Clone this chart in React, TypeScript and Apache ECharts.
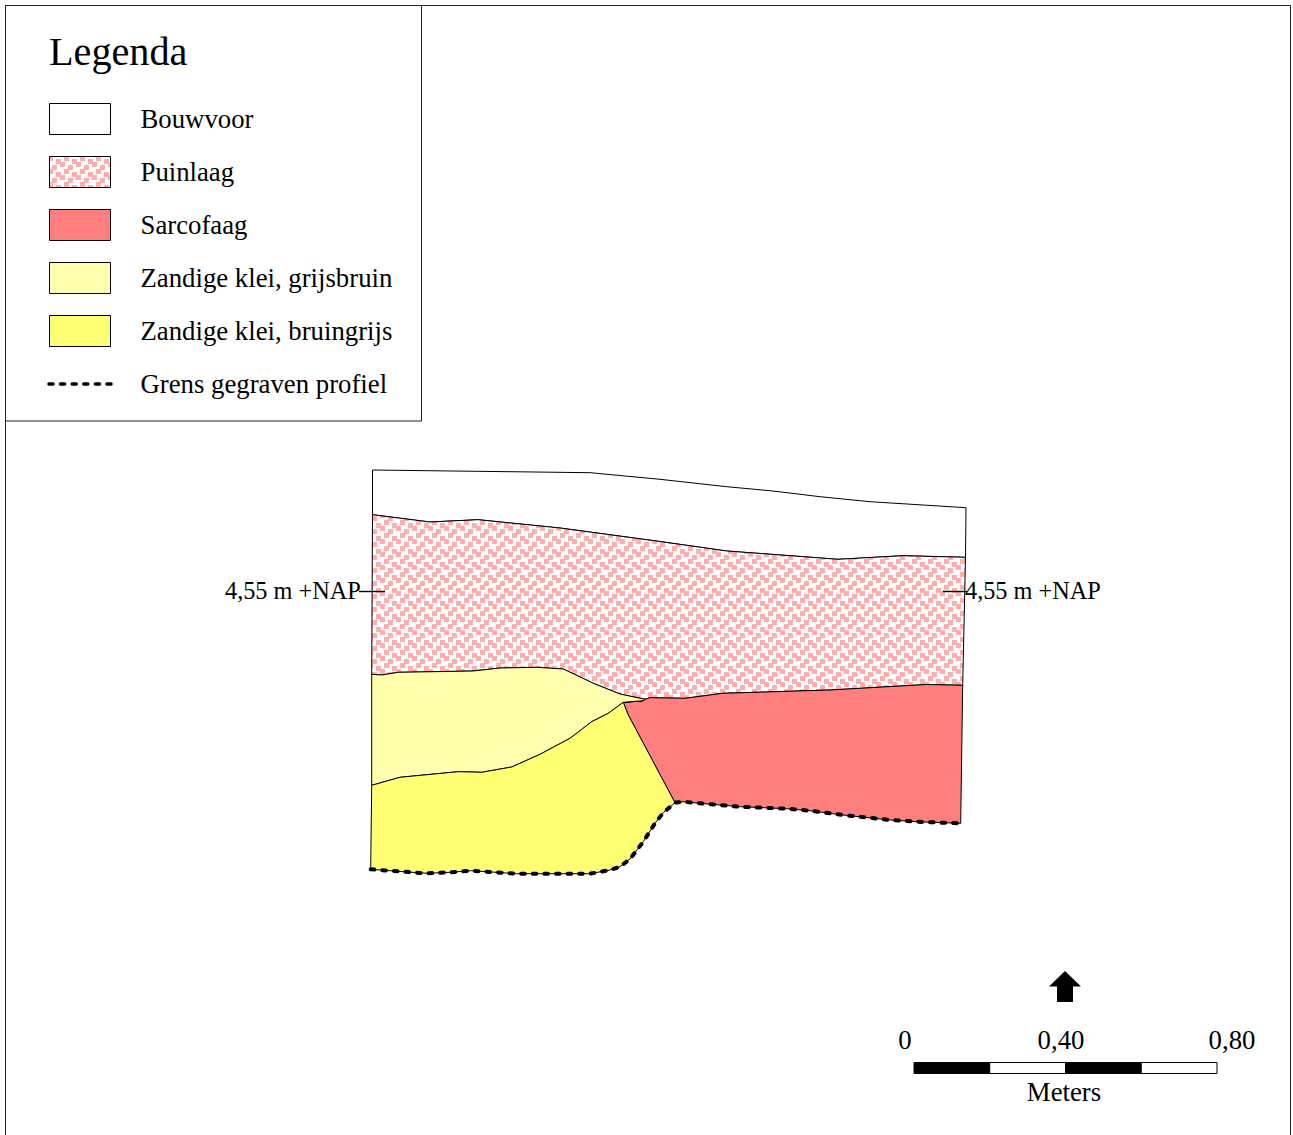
import React, { useEffect, useRef } from "react";
import * as echarts from "echarts";

type Pt = [number, number];

const WIDTH = 1293;
const HEIGHT = 1135;

const legendTitle = "Legenda";
const legendLabels = [
  "Bouwvoor",
  "Puinlaag",
  "Sarcofaag",
  "Zandige klei, grijsbruin",
  "Zandige klei, bruingrijs",
  "Grens gegraven profiel",
];
const scaleLabels = ["0", "0,40", "0,80"];
const scaleUnit = "Meters";
const levelLabel = "4,55 m +NAP";

const colours = {
  puin: "#FFADAD",
  sarcofaag: "#FF7F7F",
  grijsbruin: "#FFFFAE",
  bruingrijs: "#FFFF73",
};

// Boundaries of the drawn profile
const surfaceTop: Pt[] = [[372.5, 470], [590, 472.7], [660, 479.3], [726.7, 486.7], [773, 491], [820, 496.7], [870, 501.7], [966, 507.7]];
const ploughBase: Pt[] = [[372.5, 514.7], [430, 522], [478, 519.7], [560, 528], [660, 541.5], [726.7, 551], [776.7, 554.7], [838, 559.3], [903, 555.7], [965.5, 557.3]];
const rubbleBaseRight: Pt[] = [[645, 699.3], [650, 697.7], [685, 698.3], [723, 693.3], [830, 690], [926.7, 684.5], [962.7, 685.3]];
const rubbleBaseLeft: Pt[] = [[371.7, 674.3], [381.7, 675], [398.3, 672.3], [473.3, 671], [500, 668], [536.7, 667.3], [563.3, 669], [593.3, 683.3], [620, 694], [645, 699.3]];
const tip: Pt[] = [[645, 699.3], [643.3, 700.7], [623.3, 702.3]];
const clayDivide: Pt[] = [[623.3, 702.3], [608.3, 713.3], [591.7, 721.7], [570, 738.3], [540, 754.3], [511.7, 767], [481.7, 772.3], [458.3, 771.7], [400, 777.3], [371.7, 785.3]];
const coffinEdge: Pt[] = [[623.3, 702.3], [628.3, 715], [675, 802.7]];
const baseLeft: Pt[] = [[370.7, 869.3], [403.3, 871.7], [426.7, 873.3], [450, 872.3], [471.7, 870.7], [516.7, 873.7], [590, 873.7], [610, 870], [620, 866.7], [630, 859], [643.3, 841.7], [655, 823.3], [663.3, 812.7], [675, 802.7]];
const baseRight: Pt[] = [[675, 802.7], [683, 801.7], [693, 802.7], [740, 806.7], [786.7, 808.7], [810, 810.7], [843, 815], [890, 820], [923, 822], [960.7, 823.3]];

const rev = (a: Pt[]): Pt[] => [...a].reverse();

const bouwvoorArea: Pt[] = [...surfaceTop, ...rev(ploughBase)];
const puinArea: Pt[] = [...ploughBase, ...rev(rubbleBaseRight), ...rev(rubbleBaseLeft)];
const sarcofaagArea: Pt[] = [...tip.slice(1), ...rev(tip).slice(1), ...rubbleBaseRight.slice(1), ...rev(baseRight), ...rev(coffinEdge).slice(1)];
const grijsbruinArea: Pt[] = [...rubbleBaseLeft, ...tip.slice(1), ...clayDivide.slice(1)];
const bruingrijsArea: Pt[] = [...rev(clayDivide), ...coffinEdge.slice(1), ...rev(baseLeft).slice(1)];
const excavationLimit: Pt[] = [...baseLeft, ...baseRight.slice(1)];

const levelTicks: Pt[][] = [
  [[359, 591.5], [385, 591.5]],
  [[943, 591.5], [967, 591.5]],
];

function makeTile(colour: string) {
  const w = 16;
  const h = 26;
  const c = document.createElement("canvas");
  c.width = w;
  c.height = h;
  const g = c.getContext("2d")!;
  g.fillStyle = "#fff";
  g.fillRect(0, 0, w, h);
  g.fillStyle = colour;
  const rowY = [0, 6, 13, 19];
  for (let wrapX = -1; wrapX <= 1; wrapX++) {
    for (let wrapY = -1; wrapY <= 1; wrapY++) {
      for (let row = 0; row < 4; row++) {
        for (let col = 0; col < 2; col++) {
          const x = col * 8 + (row % 2 ? 4 : 0) + wrapX * w;
          const y = rowY[row] + ((col + row) % 2 ? 3 : 0) + wrapY * h;
          g.fillRect(x, y, 5, 5);
        }
      }
    }
  }
  return c;
}

export default function App() {
  const ref = useRef<HTMLDivElement>(null);

  useEffect(() => {
    document.body.style.margin = "0";
    document.documentElement.style.overflow = "hidden";
    const chart = echarts.init(ref.current!, undefined, { renderer: "svg" });
    const pattern: any = { image: makeTile(colours.puin), repeat: "repeat", imageWidth: 16, imageHeight: 26 };
    const serif = '"Liberation Serif", "Times New Roman", serif';

    const area = (name: string, points: Pt[], fill: any) => ({
      type: "custom" as const,
      name,
      silent: true,
      clip: false,
      coordinateSystem: "cartesian2d",
      data: points,
      renderItem: (params: any, api: any) => {
        if (params.dataIndex !== 0) return null;
        return {
          type: "polygon",
          shape: { points: points.map((p) => api.coord(p)) },
          style: { fill, stroke: "#000", lineWidth: 1, lineJoin: "round" },
        };
      },
    });

    const plainLine = (name: string, points: Pt[], style: any) => ({
      type: "line" as const,
      name,
      silent: true,
      clip: false,
      symbol: "none",
      data: points,
      lineStyle: style,
      z: 5,
    });

    const text = (s: string, x: number, y: number, fontSize: number, textAlign = "left") => ({
      type: "text",
      z: 20,
      style: { text: s, x, y, fontSize, fontFamily: serif, fill: "#000", textAlign, textVerticalAlign: "middle" },
    });

    const swatchFills: any[] = ["#fff", pattern, colours.sarcofaag, colours.grijsbruin, colours.bruingrijs];
    const rowStep = 53;
    const swatches = swatchFills.map((fill, i) => ({
      type: "rect",
      z: 20,
      shape: { x: 49.5, y: 103.5 + i * rowStep, width: 61, height: 31 },
      style: { fill, stroke: "#000", lineWidth: 1 },
    }));
    const legendTexts = legendLabels.map((s, i) => text(s, 140.5, 119 + i * rowStep, 26.75));

    const barSegments = [0, 1, 2, 3].map((i) => ({
      type: "rect",
      z: 20,
      shape: { x: 914 + i * 75.75, y: 1062.5, width: 75.75, height: 11 },
      style: { fill: i % 2 === 0 ? "#000" : "#fff", stroke: "#000", lineWidth: 1 },
    }));

    chart.setOption({
      animation: false,
      backgroundColor: "#fff",
      grid: { left: 0, right: 0, top: 0, bottom: 0 },
      xAxis: { type: "value", min: 0, max: WIDTH, show: false },
      yAxis: { type: "value", min: 0, max: HEIGHT, inverse: true, show: false },
      series: [
        area("Bouwvoor", bouwvoorArea, "#fff"),
        area("Puinlaag", puinArea, pattern),
        area("Sarcofaag", sarcofaagArea, colours.sarcofaag),
        area("Zandige klei, grijsbruin", grijsbruinArea, colours.grijsbruin),
        area("Zandige klei, bruingrijs", bruingrijsArea, colours.bruingrijs),
        plainLine("Grens gegraven profiel", excavationLimit, {
          color: "#000",
          width: 4,
          type: [3.6, 8],
          cap: "round",
        }),
        ...levelTicks.map((t, i) => plainLine("NAP " + i, t, { color: "#000", width: 1.4 })),
      ],
      graphic: [
        { type: "rect", z: 10, shape: { x: 5.5, y: 5.5, width: 1285, height: 1140 }, style: { fill: "none", stroke: "#222", lineWidth: 1 } },
        { type: "rect", z: 11, shape: { x: 5.5, y: 5.5, width: 416, height: 415.5 }, style: { fill: "#fff", stroke: "#222", lineWidth: 1 } },
        text(legendTitle, 49, 51.5, 40.2),
        ...swatches,
        ...legendTexts,
        {
          type: "line",
          z: 20,
          shape: { x1: 49, y1: 384, x2: 112, y2: 384 },
          style: { stroke: "#000", lineWidth: 3.6, lineDash: [4, 7.6], lineCap: "round" },
        },
        text(levelLabel, 225, 590, 24.3),
        text(levelLabel, 965, 590, 24.3),
        {
          type: "polygon",
          z: 20,
          shape: { points: [[1065, 971], [1081, 986.5], [1073, 986.5], [1073, 1002], [1057, 1002], [1057, 986.5], [1049, 986.5]] },
          style: { fill: "#000" },
        },
        text(scaleLabels[0], 905, 1040, 26.75, "center"),
        text(scaleLabels[1], 1061, 1040, 26.75, "center"),
        text(scaleLabels[2], 1232, 1040, 26.75, "center"),
        ...barSegments,
        text(scaleUnit, 1064, 1092, 26.75, "center"),
      ],
    });
    return () => chart.dispose();
  }, []);

  return <div ref={ref} style={{ position: "absolute", left: 0, top: 0, width: WIDTH, height: HEIGHT }} />;
}
